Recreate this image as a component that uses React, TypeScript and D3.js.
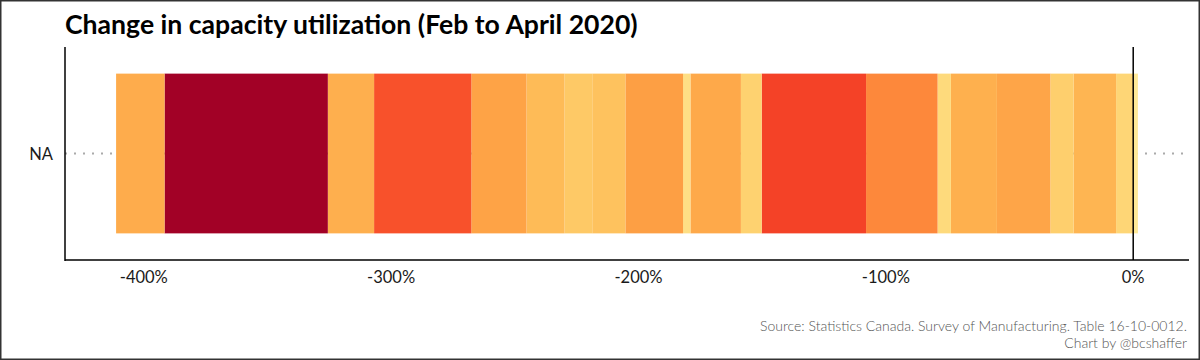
import React from "react";
import * as d3 from "d3";

// Segments ordered from the zero line outward (percentage-point change)
const industries = [
  "S01", "S02", "S03", "S04", "S05", "S06", "S07", "S08", "S09", "S10", "S11",
  "S12", "S13", "S14", "S15", "S16", "S17", "S18", "S19", "S20", "S21",
];
const changes = [
  1.9, -6.9, -17.2, -9.4, -21.6, -18.6, -5.4, -28.9, -42.2, -8.4, -20.4,
  -3.0, -23.3, -13.4, -11.2, -15.4, -22.3, -39.3, -18.7, -66.0, -19.6,
];
const category = "NA";
const tickValues = [-400, -300, -200, -100, 0];
const title = "Change in capacity utilization (Feb to April 2020)";
const captionLines = [
  "Source: Statistics Canada. Survey of Manufacturing. Table 16-10-0012.",
  "Chart by @bcshaffer",
];

const W = 1200;
const H = 360;
const FONT = "Lato, 'Open Sans', sans-serif";

export default function App() {
  const panel = { left: 65, right: 1189, top: 47, bottom: 260 };

  // stack: positives rightward from zero, negatives leftward
  let pos = 0;
  let neg = 0;
  const segs = changes.map((v, i) => {
    let x0: number, x1: number;
    if (v >= 0) {
      x0 = pos;
      x1 = pos + v;
      pos = x1;
    } else {
      x1 = neg;
      x0 = neg + v;
      neg = x0;
    }
    return { key: industries[i], v, x0, x1 };
  });
  const lo = neg;
  const hi = pos;
  const pad = (hi - lo) * 0.05;
  const x = d3.scaleLinear().domain([lo - pad, hi + pad]).range([panel.left, panel.right]);
  // discrete axis expanded like ggplot: one category, bar width 0.9 over 1.2 units
  const unit = (panel.bottom - panel.top) / 1.2;
  const cy = panel.top + unit * 0.6;
  const barH = unit * 0.9;

  const color = d3.scaleSequential(d3.interpolateYlOrRd).domain([14.8, -72.2]);

  return (
    <svg width={W} height={H} style={{ position: "fixed", left: 0, top: 0, background: "#fff" }} fontFamily={FONT}>
      <rect x={0.75} y={0.75} width={W - 1.5} height={H - 1.5} fill="#fff" stroke="#333" strokeWidth={1.5} />
      <text x={65} y={34} fontSize={26.6} fontWeight={700} fill="#000">{title}</text>

      {/* dotted gridline */}
      <line x1={panel.left} x2={panel.right} y1={cy} y2={cy} stroke="#aaa" strokeWidth={2} strokeDasharray="2 7" />

      {segs.map((s) => (
        <rect key={s.key} x={x(s.x0)} y={cy - barH / 2} width={x(s.x1) - x(s.x0)} height={barH} fill={color(s.v)} />
      ))}

      {/* zero line */}
      <line x1={x(0)} x2={x(0)} y1={panel.top} y2={panel.bottom} stroke="#000" strokeWidth={1.5} />

      {/* axes */}
      <line x1={panel.left} x2={panel.left} y1={panel.top} y2={panel.bottom + 1} stroke="#000" strokeWidth={1.5} />
      <line x1={panel.left} x2={panel.right} y1={panel.bottom} y2={panel.bottom} stroke="#000" strokeWidth={1.5} />

      <text x={panel.left - 12} y={cy} fontSize={16.5} textAnchor="end" dominantBaseline="central" fill="#1a1a1a">{category}</text>

      {tickValues.map((t) => (
        <text key={t} x={x(t)} y={283} fontSize={16.5} textAnchor="middle" fill="#1a1a1a">{`${t}%`}</text>
      ))}

      {captionLines.map((c, i) => (
        <text key={i} x={1187} y={331 + i * 17} fontSize={14} textAnchor="end" fill="#555" fontWeight={300}>{c}</text>
      ))}
    </svg>
  );
}
